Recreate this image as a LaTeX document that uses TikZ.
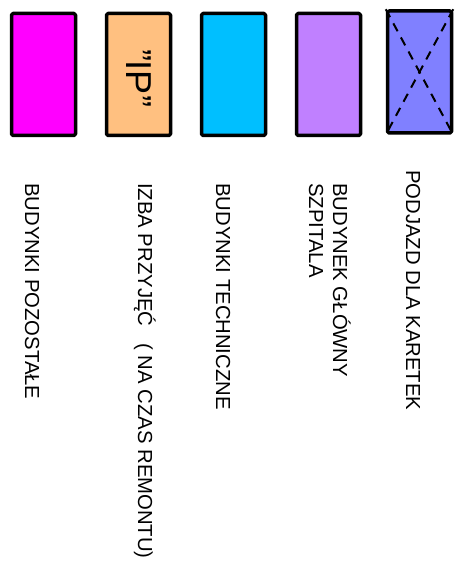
\documentclass[tikz,border=0pt]{standalone}
\usepackage{fontspec}
\setmainfont{Liberation Sans}
\definecolor{pozostale}{HTML}{FF00FF}
\definecolor{izba}{HTML}{FFC080}
\definecolor{techniczne}{HTML}{00BFFF}
\definecolor{glowny}{HTML}{C080FF}
\definecolor{podjazd}{HTML}{8080FF}
\begin{document}
\begin{tikzpicture}[x=1pt,y=-1pt, line cap=round,line join=round]
\tikzset{
  box/.style={draw=black, line width=3.5pt, rounded corners=1.5pt,
    minimum width=64pt, minimum height=122pt, inner sep=0pt},
  lbl/.style={rotate=-90, inner sep=0pt, font=\fontsize{20.3}{24}\selectfont},
}
\useasboundingbox (0,0) rectangle (461,572);
% boxes
\node[box, fill=pozostale] (b1) at (43.5,74.5) {};
\node[box, fill=izba] (b2) at (138.5,74.5) {};
\node[box, fill=techniczne] (b3) at (233.5,74.5) {};
\node[box, fill=glowny] (b4) at (328.5,74.5) {};
\node[box, fill=podjazd] (b5) at (419.5,72) {};
% "IP" sign
\node[rotate=-90, inner sep=0pt, font=\fontsize{36}{36}\selectfont, anchor=base] (ip) at (126,78) {"IP"};
% dashed cross
\draw[line width=2pt, dash pattern=on 9pt off 7pt, line cap=butt] (b5.north west) -- (b5.south east);
\draw[line width=2pt, dash pattern=on 9pt off 7pt, line cap=butt] (b5.north east) -- (b5.south west);
% labels
\node[lbl, anchor=base west] (t1) at (25,183) {BUDYNKI POZOSTAŁE};
\node[lbl, anchor=base west] (t2) at (138,183) {IZBA PRZYJĘĆ \ \ ( NA CZAS REMONTU)};
\node[lbl, anchor=base west] (t3) at (216,183) {BUDYNKI TECHNICZNE};
\node[lbl, anchor=north west, align=left] (t4) at (351,183) {BUDYNEK GŁÓWNY\\SZPITALA};
\node[lbl, anchor=base west] (t5) at (406,170) {PODJAZD DLA KARETEK};
\end{tikzpicture}
\end{document}
